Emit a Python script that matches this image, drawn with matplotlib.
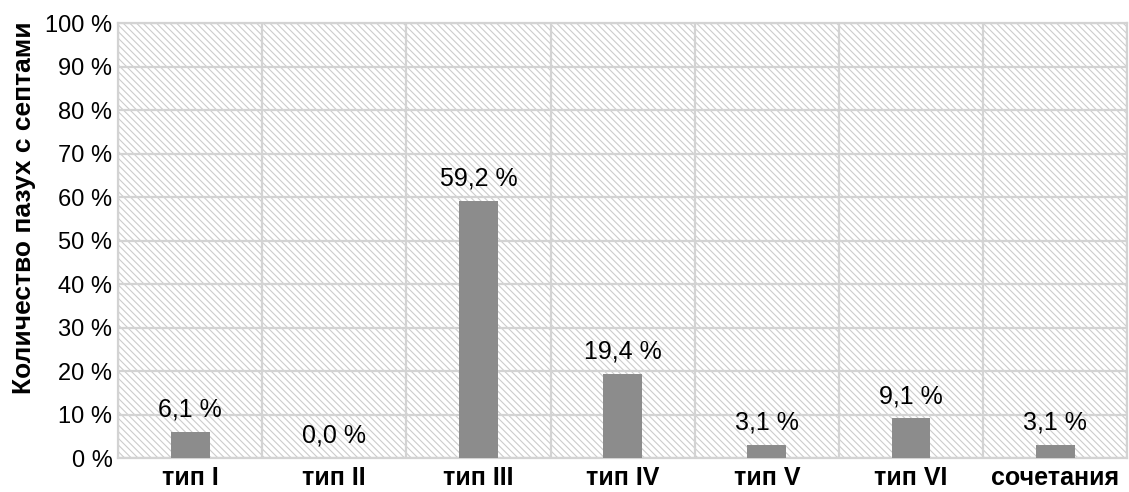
import numpy as np
import matplotlib
matplotlib.use("Agg")
import matplotlib.pyplot as plt
from matplotlib.patches import Rectangle
from matplotlib.ticker import MultipleLocator

plt.rcParams["font.family"] = ["Liberation Sans", "DejaVu Sans"]
plt.rcParams["hatch.linewidth"] = 0.8

categories = ["тип I", "тип II", "тип III", "тип IV", "тип V", "тип VI", "сочетания"]
values = [6.1, 0.0, 59.2, 19.4, 3.1, 9.1, 3.1]
GRID = "#d3d3d3"
HATCH = "#cccccc"
BAR = "#8c8c8c"

fig = plt.figure(figsize=(11.29, 4.92), dpi=100)
ax = fig.add_axes([0.1045, 0.069, 0.894, 0.884])

# hatched plot background
ax.add_patch(Rectangle((0, 0), 1, 1, transform=ax.transAxes, facecolor="white",
                       edgecolor=HATCH, lw=0, hatch="\\" * 5, zorder=0))

x = np.arange(len(categories))
ax.bar(x, values, width=0.27, color=BAR, zorder=3)
for xi, v in zip(x, values):
    ax.annotate(f"{v:.1f} %".replace(".", ","), (xi, v), xytext=(0, 11),
                textcoords="offset points", ha="center", va="baseline",
                fontsize=18, zorder=4)

ax.set_xlim(-0.5, len(categories) - 0.5)
ax.set_ylim(0, 100)
ax.yaxis.set_major_locator(MultipleLocator(10))
ax.set_yticks(np.arange(0, 101, 10))
ax.set_yticklabels([f"{t} %" for t in range(0, 101, 10)], fontsize=17)
ax.set_xticks(x)
ax.set_xticklabels(categories, fontweight="bold", fontsize=18)
ax.set_xticks(np.arange(-0.5, len(categories)), minor=True)
ax.tick_params(axis="both", which="both", length=0)
ax.tick_params(axis="x", pad=6)
ax.tick_params(axis="y", pad=4)

ax.grid(axis="y", which="major", color=GRID, lw=1.6, zorder=1)
ax.grid(axis="x", which="minor", color=GRID, lw=1.6, zorder=1)
ax.set_axisbelow(True)
for s in ax.spines.values():
    s.set_color(GRID)
    s.set_linewidth(1.6)

ax.set_ylabel("Количество пазух с септами", fontsize=19, fontweight="bold")
ax.yaxis.set_label_coords(-0.081, 0.575)

fig.savefig("out.png", dpi=100)
